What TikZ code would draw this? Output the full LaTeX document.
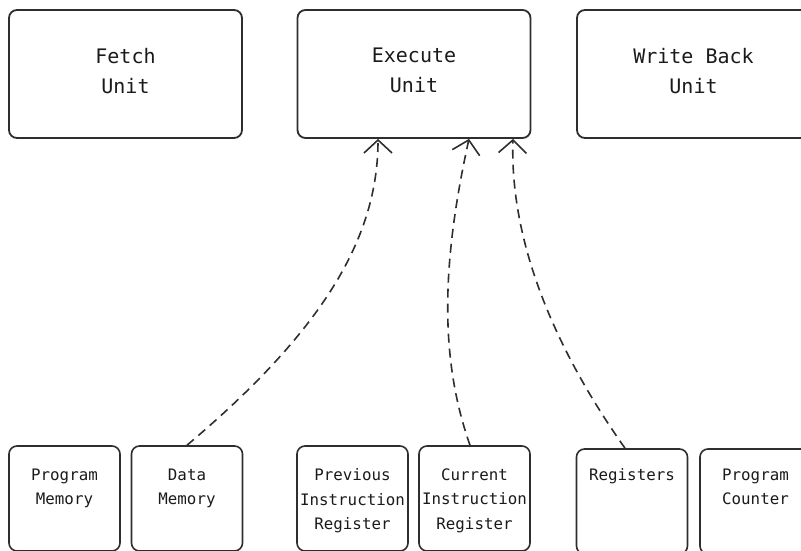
\documentclass[tikz,border=0pt]{standalone}
\usepackage{fontspec}
\setmonofont{DejaVu Sans Mono}
\usetikzlibrary{arrows.meta}
\definecolor{ink}{HTML}{2E2E2E}
\definecolor{txt}{HTML}{1A1A1A}
\begin{document}
\begin{tikzpicture}[x=1pt,y=-1pt,
  unitbox/.style={draw=ink, line width=1.8pt, rounded corners=8pt,
    minimum width=233pt, minimum height=128pt, inner sep=0pt},
  partbox/.style={draw=ink, line width=1.6pt, rounded corners=8pt,
    minimum width=111pt, minimum height=105pt, inner sep=0pt},
  unittext/.style={font=\ttfamily\fontsize{20}{30}\selectfont, text=txt,
    align=center, inner sep=0pt, anchor=north},
  parttext/.style={font=\ttfamily\fontsize{15.8}{24.5}\selectfont, text=txt,
    align=center, inner sep=0pt, anchor=north},
  link/.style={draw=ink, line width=1.6pt, dash pattern=on 9pt off 6pt,
    -{Straight Barb[length=13pt,width=28pt]}}
]
\useasboundingbox (0,0) rectangle (801,550);

% pipeline units
\node[unitbox] (fetch) at (125.5,74) {};
\node[unitbox] (exec)  at (414,74)   {};
\node[unitbox] (wb)    at (693.5,74) {};
\node[unittext] (fetch-t) at (125.5,48) {Fetch\\Unit};
\node[unittext] (exec-t)  at (414,48)   {Execute\\Unit};
\node[unittext] (wb-t)    at (693.5,48) {Write Back\\Unit};

% storage elements
\node[partbox] (pmem) at (64.5,498.5)  {};
\node[partbox] (dmem) at (187,498.5)   {};
\node[partbox] (prev) at (352.5,498.5) {};
\node[partbox] (cur)  at (474.5,498.5) {};
\node[partbox] (reg)  at (632,501.5)   {};
\node[partbox] (pc)   at (755.5,501.5) {};
\node[parttext] (pmem-t) at (64.5,468.5)  {Program\\Memory};
\node[parttext] (dmem-t) at (187,468.5)   {Data\\Memory};
\node[parttext] (prev-t) at (352.5,468.5) {Previous\\Instruction\\Register};
\node[parttext] (cur-t)  at (474.5,468.5) {Current\\Instruction\\Register};
\node[parttext] (reg-t)  at (632,468.5)   {Registers};
\node[parttext] (pc-t)   at (755.5,468.5) {Program\\Counter};

% data paths into the execute unit
\draw[link] (dmem.north) .. controls (320,333) and (378,240) .. ([xshift=-36pt]exec.south);
\draw[link] ([xshift=-4.5pt]cur.north) .. controls (440,360) and (441,266) .. ([xshift=55pt]exec.south);
\draw[link] ([xshift=-7pt]reg.north) .. controls (545,335) and (510,230) .. ([xshift=99pt]exec.south);
\end{tikzpicture}
\end{document}
